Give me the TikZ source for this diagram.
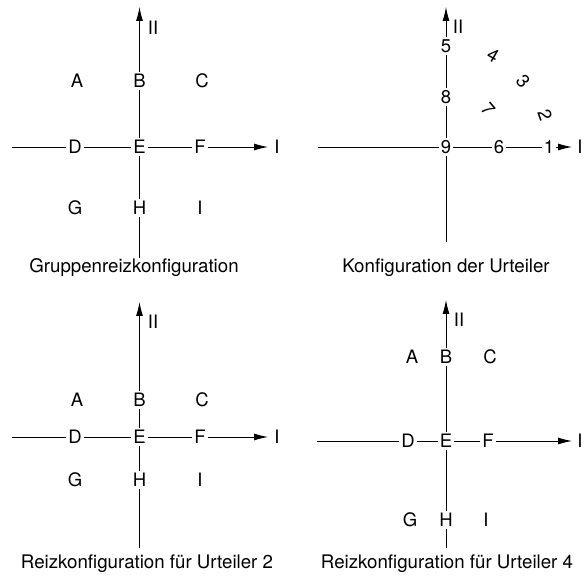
\documentclass[tikz,border=0pt]{standalone}
\usepackage{fontspec}
\setmainfont{TeX Gyre Heros}
\usetikzlibrary{arrows.meta}
\begin{document}
\begin{tikzpicture}[x=1pt,y=-1pt,
  lbl/.style={inner sep=2pt,font=\fontsize{18.5}{21}\selectfont},
  captext/.style={inner sep=0pt,font=\fontsize{18.7}{21}\selectfont},
  ax/.style={line width=0.9pt},
  arr/.style={ax,-{Latex[length=14pt,width=7pt]}},
  rotlbl/.style={lbl,rotate=#1}]
\useasboundingbox (0,0) rectangle (587,577);

% ---------- Panel 1 ----------
\node[lbl] (a1) at (77,81) {A};
\node[lbl] (b1) at (139.5,81) {B};
\node[lbl] (c1) at (202,81) {C};
\node[lbl] (d1) at (75,147) {D};
\node[lbl] (e1) at (139.5,147) {E};
\node[lbl] (f1) at (200,147) {F};
\node[lbl] (g1) at (75,208) {G};
\node[lbl] (h1) at (139.5,208) {H};
\node[lbl] (i1) at (200,208) {I};
\coordinate (l1) at (12,147);
\coordinate (r1) at (268,147);
\coordinate (t1) at (139.5,7);
\coordinate (u1) at (139.5,258);
\node[lbl] (xI1) at (277,147) {I};
\node[lbl] (xII1) at (153,28) {II};
\draw[ax] (l1) -- (d1) -- (e1) -- (f1);
\draw[arr] (f1) -- (r1);
\draw[ax] (u1) -- (h1) -- (e1) -- (b1);
\draw[arr] (b1) -- (t1);
\node[captext] (cap1) at (134,268) {Gruppenreizkonfiguration};

% ---------- Panel 2 ----------
\node[lbl] (n5) at (446,46) {5};
\node[lbl] (n8) at (446,97) {8};
\node[lbl] (n9) at (446,147) {9};
\node[lbl] (n6) at (499,147) {6};
\node[lbl] (n1) at (549,147) {1};
\node[rotlbl=-30] (n4) at (493,55) {4};
\node[rotlbl=-50] (n3) at (523,81) {3};
\node[rotlbl=-50] (n7) at (488,109) {7};
\node[rotlbl=-70] (n2) at (545,115) {2};
\coordinate (l2) at (318,147);
\coordinate (r2) at (572,147);
\coordinate (t2) at (446,7);
\coordinate (u2) at (446,242);
\node[lbl] (xI2) at (580,147) {I};
\node[lbl] (xII2) at (458,27) {II};
\draw[ax] (l2) -- (n9) -- (n6) -- (n1);
\draw[arr] (n1) -- (r2);
\draw[ax] (u2) -- (n9) -- (n8) -- (n5);
\draw[arr] (n5) -- (t2);
\node[captext] (cap2) at (446,268) {Konfiguration der Urteiler};

% ---------- Panel 3 ----------
\node[lbl] (a3) at (77,400) {A};
\node[lbl] (b3) at (139.5,400) {B};
\node[lbl] (c3) at (202,400) {C};
\node[lbl] (d3) at (75,437) {D};
\node[lbl] (e3) at (139.5,437) {E};
\node[lbl] (f3) at (200,437) {F};
\node[lbl] (g3) at (75,480) {G};
\node[lbl] (h3) at (139.5,480) {H};
\node[lbl] (i3) at (200,480) {I};
\coordinate (l3) at (12,437);
\coordinate (r3) at (268,437);
\coordinate (t3) at (139.5,302);
\coordinate (u3) at (139.5,548);
\node[lbl] (xI3) at (277,437) {I};
\node[lbl] (xII3) at (153,322) {II};
\draw[ax] (l3) -- (d3) -- (e3) -- (f3);
\draw[arr] (f3) -- (r3);
\draw[ax] (u3) -- (h3) -- (e3) -- (b3);
\draw[arr] (b3) -- (t3);
\node[captext] (cap3) at (147,564) {Reizkonfiguration für Urteiler 2};

% ---------- Panel 4 ----------
\node[lbl] (a4) at (412,357) {A};
\node[lbl] (b4) at (446,357) {B};
\node[lbl] (c4) at (490,357) {C};
\node[lbl] (d4) at (408,441) {D};
\node[lbl] (e4) at (446,441) {E};
\node[lbl] (f4) at (488,441) {F};
\node[lbl] (g4) at (410,520) {G};
\node[lbl] (h4) at (446,520) {H};
\node[lbl] (i4) at (486,520) {I};
\coordinate (l4) at (317,441);
\coordinate (r4) at (572,441);
\coordinate (t4) at (446,300);
\coordinate (u4) at (446,548);
\node[lbl] (xI4) at (580,441) {I};
\node[lbl] (xII4) at (459,320) {II};
\draw[ax] (l4) -- (d4) -- (e4) -- (f4);
\draw[arr] (f4) -- (r4);
\draw[ax] (u4) -- (h4) -- (e4) -- (b4);
\draw[arr] (b4) -- (t4);
\node[captext] (cap4) at (447,564) {Reizkonfiguration für Urteiler 4};
\end{tikzpicture}
\end{document}
